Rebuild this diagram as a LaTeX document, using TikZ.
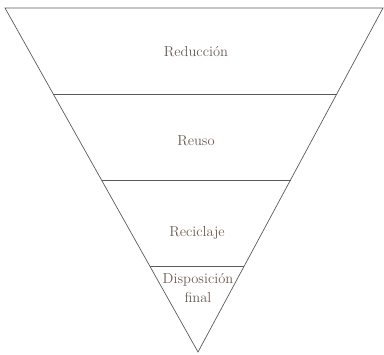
\documentclass[tikz,border=0pt]{standalone}
\usetikzlibrary{calc}
\definecolor{inkline}{HTML}{5A5A5A}
\definecolor{inktext}{HTML}{6E5A52}
\begin{document}
\begin{tikzpicture}[x=1pt, y=-1pt,
      edge/.style={draw=inkline, line width=0.7pt, line join=miter},
      level/.style={inner sep=0pt, text=inktext, font=\fontsize{14.5}{17}\selectfont, align=center}]
      \useasboundingbox (0,0) rectangle (384,355);
      \coordinate (topleft) at (5,8);
      \coordinate (topright) at (383,8);
      \coordinate (apex) at (198,352);
      \draw[edge] (topleft) -- (topright) -- (apex) -- cycle;
      \foreach \t in {0.25,0.5,0.75}
        \draw[edge] ($(topleft)!\t!(apex)$) -- ($(topright)!\t!(apex)$);
      \node[level] (reduccion) at (196,52) {Reducción};
      \node[level] (reuso) at (196,141) {Reuso};
      \node[level] (reciclaje) at (197,233) {Reciclaje};
      \node[level, font=\fontsize{14.5}{19}\selectfont] (disposicion) at (198,288) {Disposición\\final};
\end{tikzpicture}
\end{document}
